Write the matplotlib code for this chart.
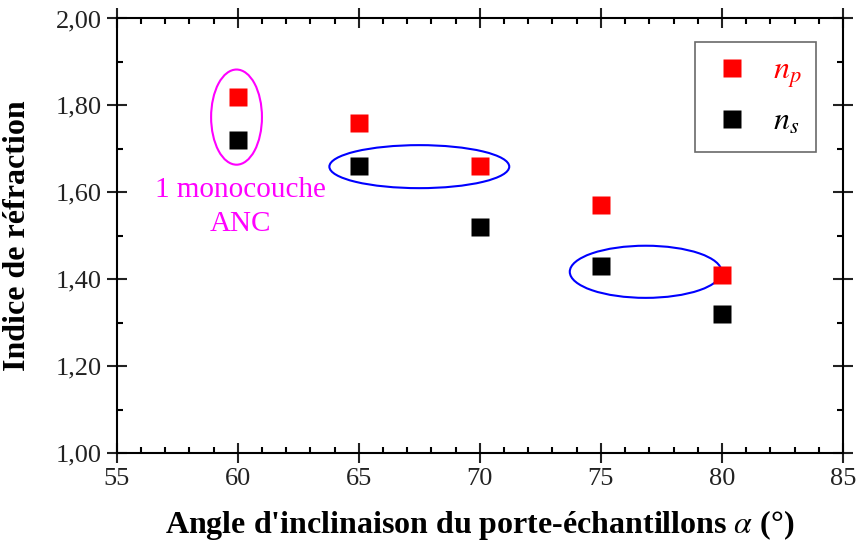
import matplotlib.pyplot as plt
import numpy as np
from matplotlib.patches import Ellipse
from matplotlib.ticker import MultipleLocator, FuncFormatter

# angles (deg) and refractive indices
angles = [60, 65, 70, 75, 80]
n_p = [1.82, 1.76, 1.66, 1.57, 1.41]
n_s = [1.72, 1.66, 1.52, 1.43, 1.32]

plt.rcParams['font.family'] = ['Liberation Serif', 'DejaVu Serif']
plt.rcParams['mathtext.fontset'] = 'stix'

fig = plt.figure(figsize=(8.58, 5.5), dpi=100)
ax = fig.add_axes([0.136, 0.1764, 0.8465, 0.79])

ax.plot(angles, n_p, 's', color='#ff0000', ms=13, mec='none', label=r'$n_p$')
ax.plot(angles, n_s, 's', color='black', ms=13, mec='none', label=r'$n_s$')

ax.add_patch(Ellipse((59.95, 1.773), 2.1, 0.219, fill=False, ec='#ff00ff', lw=1.5))
ax.add_patch(Ellipse((67.5, 1.659), 7.43, 0.099, fill=False, ec='#0000ff', lw=1.5))
ax.add_patch(Ellipse((76.85, 1.417), 6.27, 0.12, fill=False, ec='#0000ff', lw=1.5))
ax.text(60.1, 1.565, '1 monocouche\nANC', color='#ff00ff', fontsize=21,
        ha='center', va='center', linespacing=1.4)

ax.set_xlim(55, 85)
ax.set_ylim(1.0, 2.0)
ax.xaxis.set_major_locator(MultipleLocator(5))
ax.xaxis.set_minor_locator(MultipleLocator(1))
ax.yaxis.set_major_locator(MultipleLocator(0.2))
ax.yaxis.set_minor_locator(MultipleLocator(0.1))
ax.yaxis.set_major_formatter(FuncFormatter(lambda v, p: f'{v:.2f}'.replace('.', ',')))

for s in ax.spines.values():
    s.set_linewidth(1.5)
ax.tick_params(which='major', direction='inout', length=14, width=1.5,
               top=True, right=True, labelsize=19, colors='#222222')
ax.tick_params(which='minor', direction='in', length=4, width=1.5, top=True, right=True)

ax.set_xlabel("Angle d'inclinaison du porte-échantillons $\\alpha$ (°)",
              fontsize=23, fontweight='bold', labelpad=13)
ax.set_ylabel('Indice de réfraction', fontsize=23, fontweight='bold')
ax.yaxis.set_label_coords(-0.117, 0.5)

leg = ax.legend(loc='upper right', bbox_to_anchor=(0.985, 0.982), fontsize=23,
                frameon=True, fancybox=False, edgecolor='#444444',
                handletextpad=0.6, borderpad=0.45, labelspacing=0.55, handlelength=1.4)
leg.get_frame().set_linewidth(1.2)
leg.get_texts()[0].set_color('#ff0000')

fig.savefig('out.png', dpi=100)
